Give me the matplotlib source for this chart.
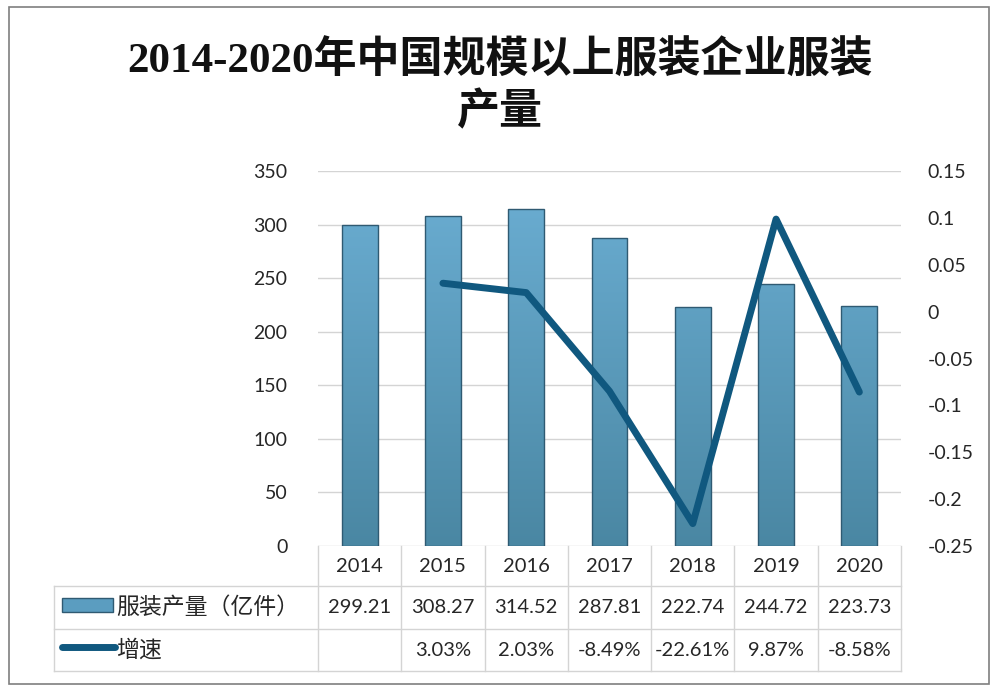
import numpy as np
import matplotlib.pyplot as plt
from matplotlib.patches import Rectangle
from matplotlib.lines import Line2D
from matplotlib.colors import LinearSegmentedColormap
import matplotlib.transforms as mtransforms

# data
years = ["2014", "2015", "2016", "2017", "2018", "2019", "2020"]
output = [299.21, 308.27, 314.52, 287.81, 222.74, 244.72, 223.73]
growth = [None, 0.0303, 0.0203, -0.0849, -0.2261, 0.0987, -0.0858]
output_labels = ["299.21", "308.27", "314.52", "287.81", "222.74", "244.72", "223.73"]
growth_labels = ["", "3.03%", "2.03%", "-8.49%", "-22.61%", "9.87%", "-8.58%"]
left_ticks = [0, 50, 100, 150, 200, 250, 300, 350]
right_ticks = [-0.25, -0.2, -0.15, -0.1, -0.05, 0, 0.05, 0.1, 0.15]
right_tick_labels = ["-0.25", "-0.2", "-0.15", "-0.1", "-0.05", "0", "0.05", "0.1", "0.15"]
bar_name = "服装产量（亿件）"
line_name = "增速"
title = "2014-2020年中国规模以上服装企业服装\n产量"

W, H = 996, 690
CJK = ["Noto Sans CJK SC", "DejaVu Sans"]
NUM = ["Lato", "Noto Sans CJK SC"]
LINE_C = "#10587f"
GRID_C = "#d4d4d4"
bar_cmap = LinearSegmentedColormap.from_list("bars", ["#4a87a3", "#6cafd4"])

fig = plt.figure(figsize=(W / 100, H / 100), dpi=100)
fig.patch.set_facecolor("white")


def fx(px):
    return px / W


def fy(py):
    return 1 - py / H


# outer frame
fig.add_artist(Rectangle((fx(9), fy(684)), fx(980), 1 - fy(677) + 0, transform=fig.transFigure,
                         fill=False, edgecolor="#7f7f7f", linewidth=1.2))

ax_l, ax_r, ax_t, ax_b = 318, 901, 171, 546
ax = fig.add_axes([fx(ax_l), fy(ax_b), fx(ax_r - ax_l), fy(ax_t) - fy(ax_b)])
n = len(years)
x = np.arange(n)
ax.set_xlim(-0.5, n - 0.5)
ax.set_ylim(0, 350)
ax.set_yticks(left_ticks)
ax.set_yticklabels([str(t) for t in left_ticks], fontfamily=NUM, fontsize=14, color="#262626")
ax.set_xticks([])
ax.tick_params(axis="y", length=0, pad=22)
for s in ax.spines.values():
    s.set_visible(False)
ax.grid(axis="y", color=GRID_C, linewidth=1)
ax.set_axisbelow(True)

bars = ax.bar(x, output, width=0.43, color="none", edgecolor="#2f5a72", linewidth=1, zorder=3)
grad = np.linspace(0, 1, 256).reshape(-1, 1)
for b in bars:
    im = ax.imshow(grad, cmap=bar_cmap, origin="lower", aspect="auto",
                   extent=(-0.5, n - 0.5, 0, 350), zorder=2)
    im.set_clip_path(b)
ax.set_xlim(-0.5, n - 0.5)
ax.set_ylim(0, 350)

ax2 = ax.twinx()
ax2.set_ylim(-0.25, 0.15)
ax2.set_yticks(right_ticks)
ax2.set_yticklabels(right_tick_labels, fontfamily=NUM, fontsize=14, color="#262626")
ax2.tick_params(axis="y", length=0, pad=19)
for s in ax2.spines.values():
    s.set_visible(False)
gx = [i for i, g in enumerate(growth) if g is not None]
gy = [g for g in growth if g is not None]
ax2.plot(gx, gy, color=LINE_C, linewidth=5, solid_capstyle="round", solid_joinstyle="round", zorder=4)

# data table under the plot
rows = [546, 586, 629, 671]
lab_l = 54
col_w = (ax_r - ax_l) / n
tbl_kw = dict(color=GRID_C, linewidth=1, transform=fig.transFigure)
for i in range(n + 1):
    xe = ax_l + i * col_w
    fig.add_artist(Line2D([fx(xe), fx(xe)], [fy(rows[0]), fy(rows[3])], **tbl_kw))
fig.add_artist(Line2D([fx(lab_l), fx(lab_l)], [fy(rows[1]), fy(rows[3])], **tbl_kw))
for r in rows[1:]:
    fig.add_artist(Line2D([fx(lab_l), fx(ax_r)], [fy(r), fy(r)], **tbl_kw))

col_x = mtransforms.blended_transform_factory(ax.transData, fig.transFigure)
for i in range(n):
    ax.text(x[i], fy((rows[0] + rows[1]) / 2), years[i], transform=col_x, ha="center", va="center",
            fontfamily=NUM, fontsize=14.5, color="#262626")
    ax.text(x[i], fy((rows[1] + rows[2]) / 2), output_labels[i], transform=col_x, ha="center", va="center",
            fontfamily=NUM, fontsize=14.5, color="#262626")
    ax.text(x[i], fy((rows[2] + rows[3]) / 2), growth_labels[i], transform=col_x, ha="center", va="center",
            fontfamily=NUM, fontsize=14.5, color="#262626")

# legend keys inside the table
key = Rectangle((fx(62), fy(612)), fx(51), fy(598) - fy(612), transform=fig.transFigure,
                facecolor="#5b9dc0", edgecolor="#2f5a72", linewidth=1)
fig.add_artist(key)
fig.add_artist(Line2D([fx(62), fx(115)], [fy(647), fy(647)], transform=fig.transFigure,
                      color=LINE_C, linewidth=5, solid_capstyle="round"))
fig.text(fx(116), fy((rows[1] + rows[2]) / 2), bar_name, ha="left", va="center",
         fontfamily=CJK, fontsize=16.5, color="#262626")
fig.text(fx(116), fy((rows[2] + rows[3]) / 2), line_name, ha="left", va="center",
         fontfamily=CJK, fontsize=16.5, color="#262626")

fig.text(fx(500), fy(87), title, ha="center", va="center", fontfamily=["Liberation Serif", "Noto Sans CJK SC"],
         fontsize=31, fontweight="bold", color="#111111", linespacing=1.3)

fig.savefig("out.png", dpi=100)
